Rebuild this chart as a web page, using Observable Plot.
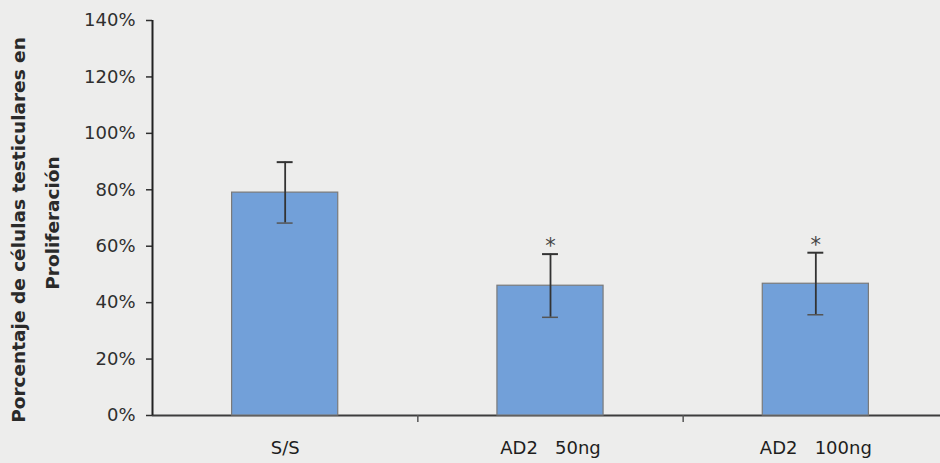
<!DOCTYPE html>
<html>
<head>
<meta charset="utf-8">
<script src="https://cdn.jsdelivr.net/npm/d3@7"></script>
<script src="https://cdn.jsdelivr.net/npm/@observablehq/plot@0.6"></script>
<style>
  html, body { margin: 0; padding: 0; background: #ededec; }
  #chart svg { background: transparent; display: block; }
  #chart text { white-space: pre; }
</style>
</head>
<body>
<div id="chart"></div>
<script>
// Data
const categories = ["S/S", "AD2   50ng", "AD2   100ng"];
const means = [0.79, 0.46, 0.467];
const sems = [0.108, 0.112, 0.11];
const marks = ["", "*", "*"];
const yTicks = [0, 0.2, 0.4, 0.6, 0.8, 1.0, 1.2, 1.4];
const titleLines = ["Porcentaje de células testiculares en", "Proliferación"];

const data = categories.map((c, i) => ({
  i, category: c, mean: means[i], sem: sems[i], sig: marks[i]
}));

const W = 940, H = 463;
const plot = Plot.plot({
  width: W,
  height: H,
  marginLeft: 152,
  marginRight: -8,
  marginTop: 20,
  marginBottom: 48,
  style: { fontFamily: "DejaVu Sans, sans-serif", color: "#333", background: "transparent" },
  x: { type: "linear", domain: [0, categories.length], axis: null },
  y: { domain: [0, 1.4], axis: null },
  marks: [
    // baseline
    Plot.ruleY([0], { x1: 0, x2: categories.length, stroke: "#3d3d3d", strokeWidth: 2 }),
    // y axis
    Plot.axisY({
      ticks: yTicks, tickFormat: d3.format(".0%"), tickSize: 6, tickPadding: 11,
      fontSize: 18, fill: "#2f2f2f", stroke: "#2f2f2f", strokeWidth: 1.5, label: null
    }),
    Plot.ruleX([0], { y1: 0, y2: 1.4, stroke: "#222", strokeWidth: 2 }),
    // category separator ticks
    Plot.axisX({
      ticks: d3.range(1, categories.length), tickFormat: () => "", tickSize: 7,
      stroke: "#555", strokeWidth: 1.5, label: null
    }),
    // category labels
    Plot.axisX({
      ticks: categories.map((_, i) => i + 0.5), tickFormat: (d) => categories[Math.floor(d)],
      tickSize: 0, tickPadding: 26, fontSize: 18, fill: "#1e1e1e", label: null
    }),
    // bars
    Plot.rectY(data, {
      x1: (d) => d.i + 0.3, x2: (d) => d.i + 0.7, y1: 0, y2: "mean",
      fill: "#72a0d9", stroke: "#7a7a7a", strokeWidth: 1.2
    }),
    // error bars
    Plot.ruleX(data, {
      x: (d) => d.i + 0.5, y1: (d) => d.mean - d.sem, y2: (d) => d.mean + d.sem,
      stroke: "#333", strokeWidth: 1.8
    }),
    Plot.ruleY(data, {
      x1: (d) => d.i + 0.47, x2: (d) => d.i + 0.53, y: (d) => d.mean + d.sem,
      stroke: "#333", strokeWidth: 2
    }),
    Plot.ruleY(data, {
      x1: (d) => d.i + 0.47, x2: (d) => d.i + 0.53, y: (d) => d.mean - d.sem,
      stroke: "#555", strokeWidth: 1.5
    }),
    // significance asterisks
    Plot.text(data, {
      x: (d) => d.i + 0.5, y: (d) => d.mean + d.sem, text: "sig",
      lineAnchor: "bottom", dy: -1, fontSize: 21, fill: "#444"
    }),
    // y axis title (two lines)
    Plot.text([titleLines[0]], {
      frameAnchor: "left", text: (d) => d, rotate: -90, dx: -133, dy: 12,
      fontSize: 18.5, fontWeight: "bold", fill: "#2a2a2a", textAnchor: "middle", lineAnchor: "middle"
    }),
    Plot.text([titleLines[1]], {
      frameAnchor: "left", text: (d) => d, rotate: -90, dx: -99, dy: 5,
      fontSize: 18.5, fontWeight: "bold", fill: "#2a2a2a", textAnchor: "middle", lineAnchor: "middle"
    })
  ]
});
document.getElementById("chart").append(plot);
</script>
</body>
</html>
